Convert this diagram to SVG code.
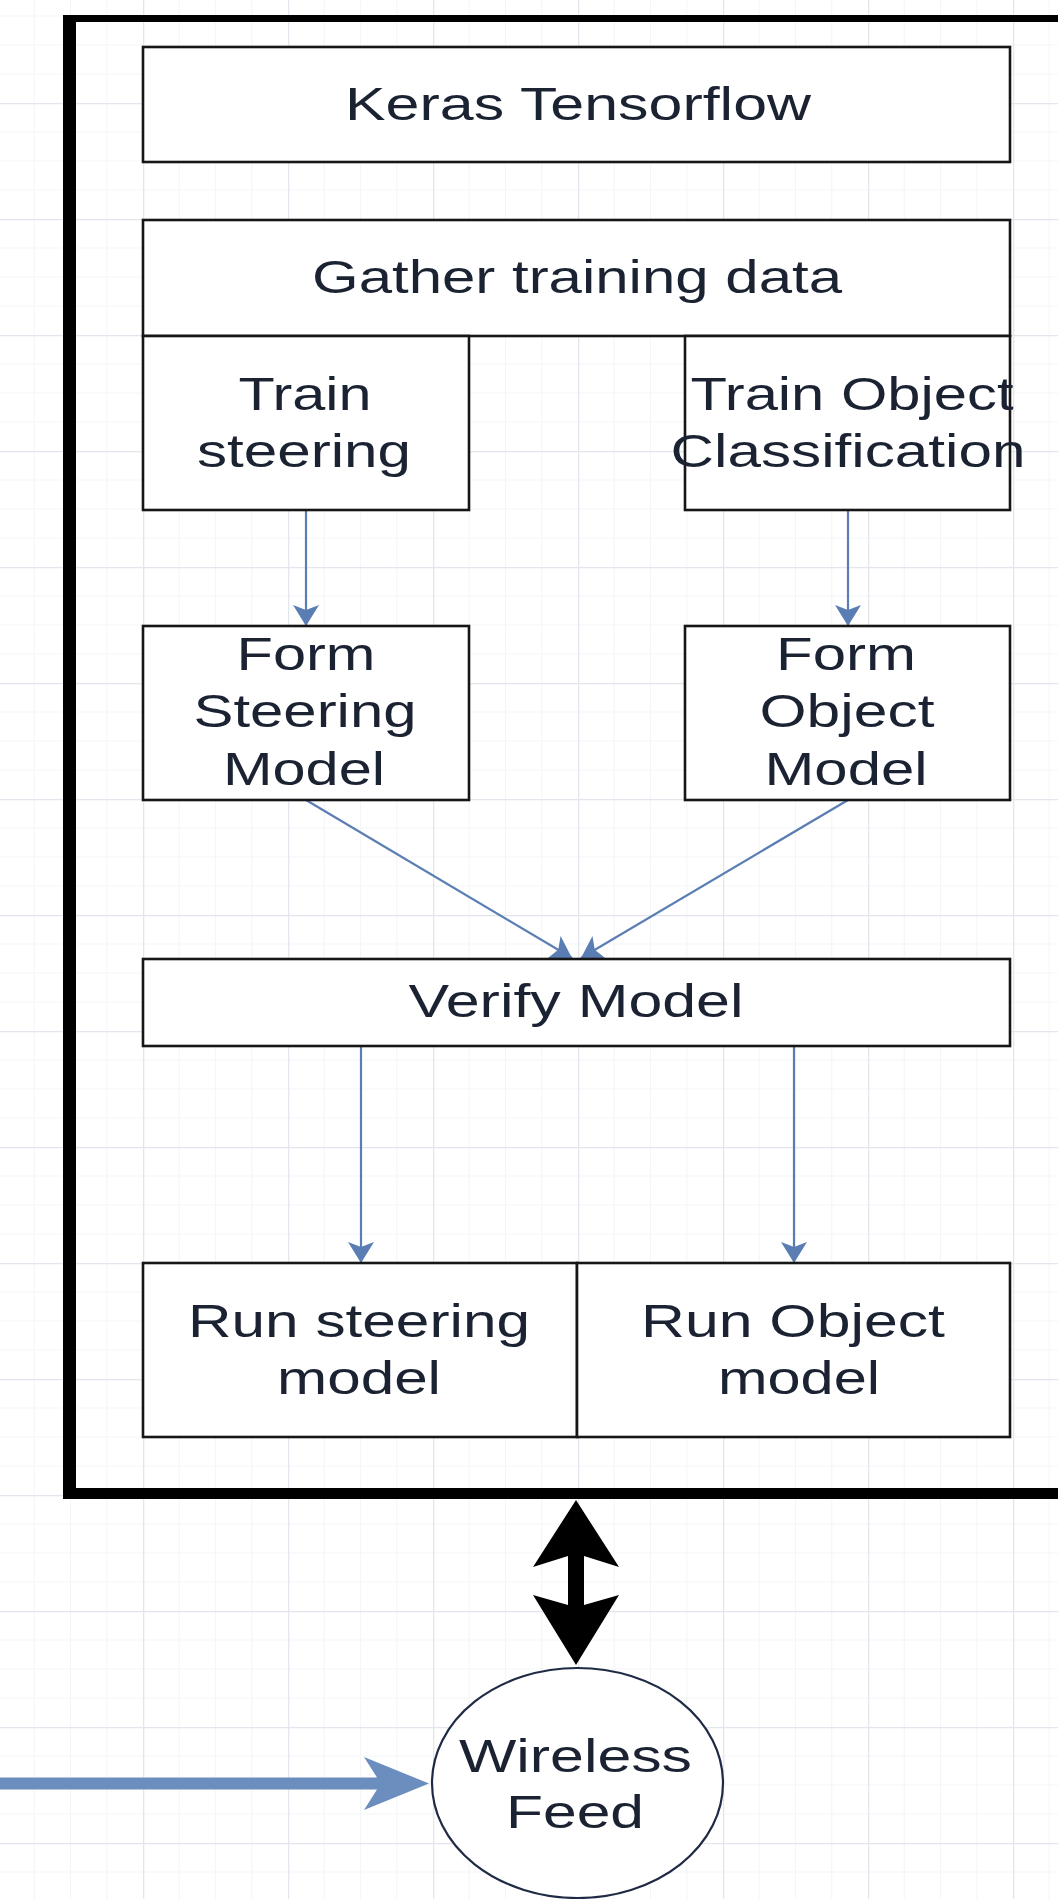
<svg xmlns="http://www.w3.org/2000/svg" width="1058" height="1899" viewBox="0 0 1058 1899">
<style>
.box{fill:#ffffff;stroke:#161616;stroke-width:2.6}
.t{font-family:"Liberation Sans",Arial,sans-serif;font-size:46.5px;fill:#1b2232;text-anchor:middle}
.thin{stroke:#5a7db3;stroke-width:2.2;fill:none}
</style>
<defs>
<pattern id="grid" patternUnits="userSpaceOnUse" x="-2" y="-13" width="145" height="116">
<rect width="145" height="116" fill="#ffffff"/>
<path d="M36.25,0V116M72.5,0V116M108.75,0V116M0,29H145M0,58H145M0,87H145" stroke="#f4f5f8" stroke-width="1" fill="none"/>
<path d="M0.5,0V116M0,0.5H145" stroke="#e3e6ec" stroke-width="1.5" fill="none"/>
</pattern>
<marker id="ah" markerUnits="userSpaceOnUse" markerWidth="26" markerHeight="30" viewBox="-23 -15 25 30" refX="0" refY="0" orient="auto">
<path d="M0,0 L-21,-13 L-16,0 L-21,13 Z" fill="#5a7db3"/>
</marker>
</defs>
<rect x="0" y="0" width="1058" height="1899" fill="url(#grid)"/>

<g id="container">
<path d="M63,15 H1070 V1499 H63 Z M76,22 H1070 V1488 H76 Z" fill="#000000" fill-rule="evenodd"/>
</g>

<g id="connectors">
<line class="thin" x1="306" y1="510" x2="306" y2="626" marker-end="url(#ah)"/>
<line class="thin" x1="848" y1="510" x2="848" y2="626" marker-end="url(#ah)"/>
<line class="thin" x1="306" y1="800" x2="572" y2="958" marker-end="url(#ah)"/>
<line class="thin" x1="848" y1="800" x2="581" y2="958" marker-end="url(#ah)"/>
<line class="thin" x1="361" y1="1046" x2="361" y2="1263" marker-end="url(#ah)"/>
<line class="thin" x1="794" y1="1046" x2="794" y2="1263" marker-end="url(#ah)"/>
<path id="double-arrow" d="M576,1500 L619,1567 L584,1556 L584,1605 L619,1595 L576,1665 L533,1595 L568,1605 L568,1556 L533,1567 Z" fill="#000000"/>
<path id="feed-arrow" d="M-5,1777.5 L377,1777.5 L364,1757 L429,1783.5 L364,1810 L377,1789.5 L-5,1789.5 Z" fill="#6c8ebf"/>
</g>

<g id="keras">
<rect class="box" x="143" y="47" width="867" height="115"/>
<text class="t" x="578" y="120" textLength="466" lengthAdjust="spacingAndGlyphs">Keras Tensorflow</text>
</g>
<g id="gather">
<rect class="box" x="143" y="220" width="867" height="116"/>
<text class="t" x="577" y="293" textLength="530" lengthAdjust="spacingAndGlyphs">Gather training data</text>
</g>
<g id="train-steering">
<rect class="box" x="143" y="336" width="326" height="174"/>
<text class="t" x="305" y="410" textLength="133" lengthAdjust="spacingAndGlyphs">Train</text>
<text class="t" x="304" y="467" textLength="214" lengthAdjust="spacingAndGlyphs">steering</text>
</g>
<g id="train-object">
<rect class="box" x="685" y="336" width="325" height="174"/>
<text class="t" x="852" y="410" textLength="323" lengthAdjust="spacingAndGlyphs">Train Object</text>
<text class="t" x="848" y="467" textLength="355" lengthAdjust="spacingAndGlyphs">Classification</text>
</g>
<g id="form-steering">
<rect class="box" x="143" y="626" width="326" height="174"/>
<text class="t" x="306" y="670" textLength="139" lengthAdjust="spacingAndGlyphs">Form</text>
<text class="t" x="305" y="727" textLength="223" lengthAdjust="spacingAndGlyphs">Steering</text>
<text class="t" x="304" y="785" textLength="162" lengthAdjust="spacingAndGlyphs">Model</text>
</g>
<g id="form-object">
<rect class="box" x="685" y="626" width="325" height="174"/>
<text class="t" x="846" y="670" textLength="140" lengthAdjust="spacingAndGlyphs">Form</text>
<text class="t" x="847" y="727" textLength="175" lengthAdjust="spacingAndGlyphs">Object</text>
<text class="t" x="846" y="785" textLength="163" lengthAdjust="spacingAndGlyphs">Model</text>
</g>
<g id="verify">
<rect class="box" x="143" y="959" width="867" height="87"/>
<text class="t" x="576" y="1017" textLength="335" lengthAdjust="spacingAndGlyphs">Verify Model</text>
</g>
<g id="run-steering">
<rect class="box" x="143" y="1263" width="434" height="174"/>
<text class="t" x="359" y="1337" textLength="342" lengthAdjust="spacingAndGlyphs">Run steering</text>
<text class="t" x="359" y="1394" textLength="164" lengthAdjust="spacingAndGlyphs">model</text>
</g>
<g id="run-object">
<rect class="box" x="577" y="1263" width="433" height="174"/>
<text class="t" x="793" y="1337" textLength="304" lengthAdjust="spacingAndGlyphs">Run Object</text>
<text class="t" x="799" y="1394" textLength="162" lengthAdjust="spacingAndGlyphs">model</text>
</g>
<g id="wireless-feed">
<ellipse cx="577.5" cy="1783" rx="145.5" ry="115" fill="#ffffff" stroke="#1f2a44" stroke-width="2.2"/>
<text class="t" x="575.5" y="1772" textLength="233" lengthAdjust="spacingAndGlyphs">Wireless</text>
<text class="t" x="575" y="1828" textLength="138" lengthAdjust="spacingAndGlyphs">Feed</text>
</g>
</svg>
